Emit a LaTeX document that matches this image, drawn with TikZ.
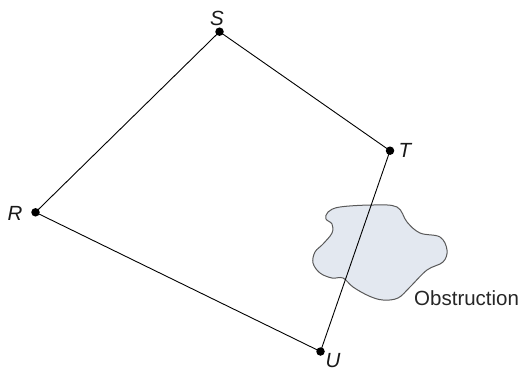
\documentclass[tikz,border=0pt]{standalone}
\usepackage{fontspec}
\setmainfont{Liberation Sans}
\begin{document}
\begin{tikzpicture}[x=1pt,y=-1pt,
  pt/.style={circle,fill=black,inner sep=0pt,minimum size=8.5pt},
  lbl/.style={font=\fontsize{20.5}{24}\selectfont\itshape,text=black!90,inner sep=0pt},
  edge/.style={draw=black,line width=0.9pt},
  blob/.style={draw=black!65,fill={rgb,255:red,227;green,232;blue,240},line width=1pt}]
\useasboundingbox (0,0) rectangle (524,370);
\draw[blob] plot[smooth cycle,tension=0.6] coordinates {
 (328,212) (340,207) (373,205) (397,207) (407,222) (420,233) (440,237)
 (447,250) (443,262) (427,270) (410,287) (398,298) (383,300) (369,296)
 (353,287) (343,278) (332,278) (320,273) (313,263) (315,252) (323,244)
 (332,233) (332,224) (326,219)};
\node[pt] (S) at (219.5,31.7) {};
\node[pt] (T) at (390,150.7) {};
\node[pt] (R) at (35.5,212.3) {};
\node[pt] (U) at (320.5,351.5) {};
\draw[edge] (S.center) -- (T.center) -- (U.center) -- (R.center) -- (S.center);
\node[lbl] (Sl) at (217,18) {S};
\node[lbl] (Tl) at (405,150) {T};
\node[lbl] (Rl) at (15,213) {R};
\node[lbl] (Ul) at (333,360.5) {U};
\node[font=\fontsize{20.5}{24}\selectfont,text=black!85,inner sep=0pt,anchor=base west] (ob) at (414,305) {Obstruction};
\end{tikzpicture}
\end{document}
